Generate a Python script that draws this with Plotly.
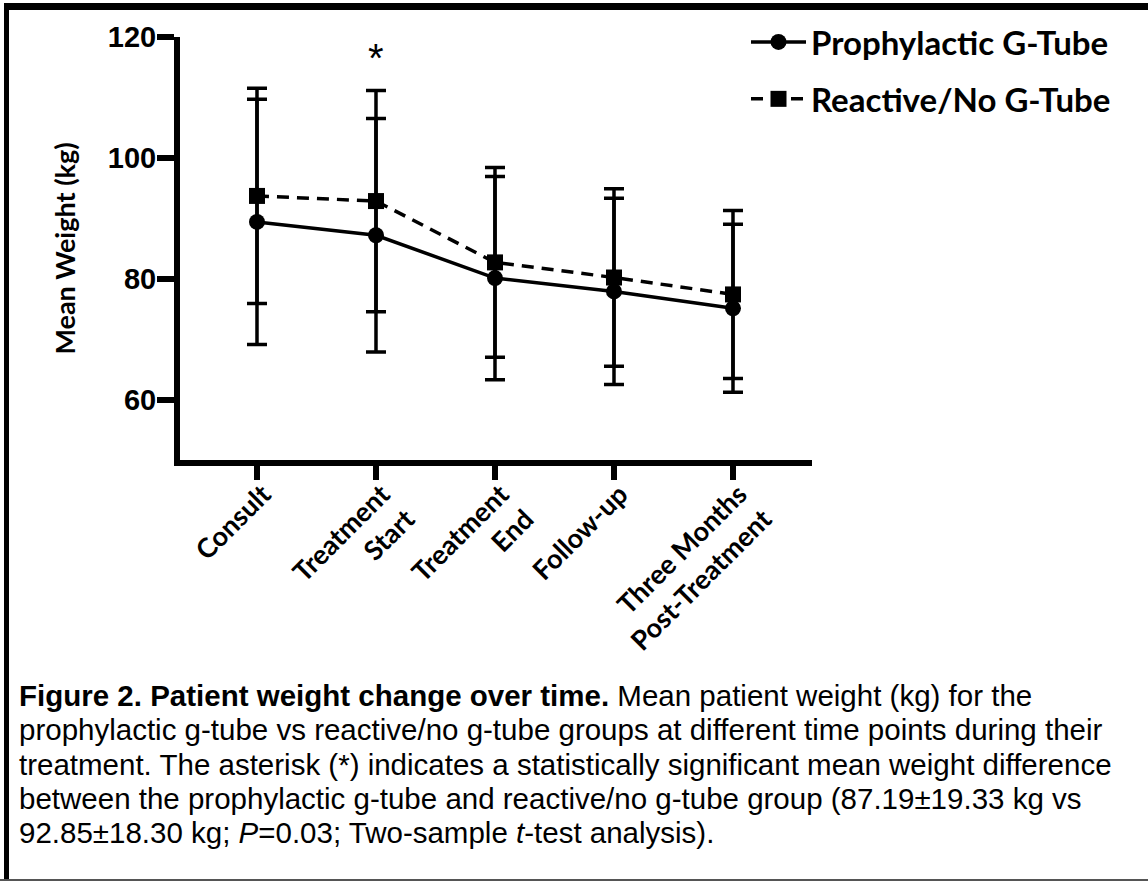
import plotly.graph_objects as go

# ---- data ----
categories = ["Consult", "Treatment<br>Start", "Treatment<br>End", "Follow-up", "Three Months<br>Post-Treatment"]
prophylactic_mean = [89.4, 87.19, 80.1, 77.9, 75.1]
prophylactic_sd = [20.3, 19.33, 16.8, 15.4, 13.9]
reactive_mean = [93.7, 92.85, 82.7, 80.2, 77.4]
reactive_sd = [17.8, 18.30, 15.7, 14.7, 13.9]
series_names = ["Prophylactic G-Tube", "Reactive/No G-Tube"]
y_ticks = [60, 80, 100, 120]
y_title = "Mean Weight (kg)"
significant_category = "Treatment<br>Start"
caption_lines = [
    "<b>Figure 2. Patient weight change over time.</b> Mean patient weight (kg) for the",
    "prophylactic g-tube vs reactive/no g-tube groups at different time points during their",
    "treatment. The asterisk (*) indicates a statistically significant mean weight difference",
    "between the prophylactic g-tube and reactive/no g-tube group (87.19\u00b119.33 kg vs",
    "92.85\u00b118.30 kg; <i>P</i>=0.03; Two-sample <i>t</i>-test analysis).",
]

W, H = 1148, 881
ML, MR, MT, MB = 180, 336, 37, 421
PW = W - ML - MR
PH = H - MT - MB


def px(x):
    return (x - ML) / PW


def py(y):
    return (H - MB - y) / PH


BOLD_SANS = "Lato"
ARIAL = "Liberation Sans, Arial"

fig = go.Figure()
fig.add_trace(go.Scatter(
    x=categories, y=prophylactic_mean, name=series_names[0], mode="lines+markers",
    line=dict(color="black", width=3.5),
    marker=dict(symbol="circle", size=16, color="black"),
    error_y=dict(type="data", array=prophylactic_sd, visible=True, color="black", thickness=3.5, width=10),
    legendgroup="a",
))
fig.add_trace(go.Scatter(
    x=categories, y=reactive_mean, name=series_names[1], mode="lines+markers",
    line=dict(color="black", width=3.5, dash="12px,8px"),
    marker=dict(symbol="square", size=16, color="black"),
    error_y=dict(type="data", array=reactive_sd, visible=True, color="black", thickness=3.5, width=10),
    legendgroup="b",
))

fig.add_annotation(x=significant_category, y=116.6, xref="x", yref="y", text="*", showarrow=False,
                   font=dict(family=ARIAL, size=40, color="black"), yanchor="middle")

caption_y = [695, 729, 764, 798, 832]
for line, yy in zip(caption_lines, caption_y):
    fig.add_annotation(x=px(17), y=py(yy), xref="paper", yref="paper", text=line, showarrow=False,
                       xanchor="left", yanchor="middle", align="left",
                       font=dict(family=ARIAL, size=29.5, color="black"))

# frame lines
fig.add_shape(type="line", xref="paper", yref="paper", x0=px(4), x1=px(W), y0=py(6.5), y1=py(6.5),
              line=dict(color="black", width=7))
fig.add_shape(type="line", xref="paper", yref="paper", x0=px(6.5), x1=px(6.5), y0=py(3), y1=py(H),
              line=dict(color="black", width=5))
fig.add_shape(type="line", xref="paper", yref="paper", x0=px(0), x1=px(W), y0=py(880), y1=py(880),
              line=dict(color="#555555", width=2))

fig.update_layout(
    width=W, height=H,
    margin=dict(l=ML, r=MR, t=MT, b=MB, pad=0),
    paper_bgcolor="white", plot_bgcolor="white",
    showlegend=True,
    legend=dict(x=px(746), y=py(14), xanchor="left", yanchor="top",
                font=dict(family=BOLD_SANS, size=33, color="black", weight="bold"),
                itemwidth=55, tracegroupgap=11, bgcolor="rgba(0,0,0,0)"),
    xaxis=dict(range=[-0.647, 4.664], showgrid=False, zeroline=False,
               showline=True, linecolor="black", linewidth=6,
               ticks="outside", ticklen=14, tickwidth=6, tickcolor="black",
               tickangle=-45, ticklabelshift=6, ticklabelstandoff=-12,
               tickfont=dict(family=BOLD_SANS, size=27, color="black", weight="bold")),
    yaxis=dict(range=[50, 120], showgrid=False, zeroline=False,
               showline=True, linecolor="black", linewidth=6,
               ticks="outside", ticklen=17, tickwidth=6, tickcolor="black",
               tickvals=y_ticks, ticklabelstandoff=-5,
               tickfont=dict(family=ARIAL, size=29, color="black", weight="bold"),
               title=dict(text=y_title, standoff=26,
                          font=dict(family=BOLD_SANS, size=27, color="black", weight="bold"))),
)

fig.write_html("out.html", config={"displayModeBar": False},
               post_script="document.body.style.margin='0';")
